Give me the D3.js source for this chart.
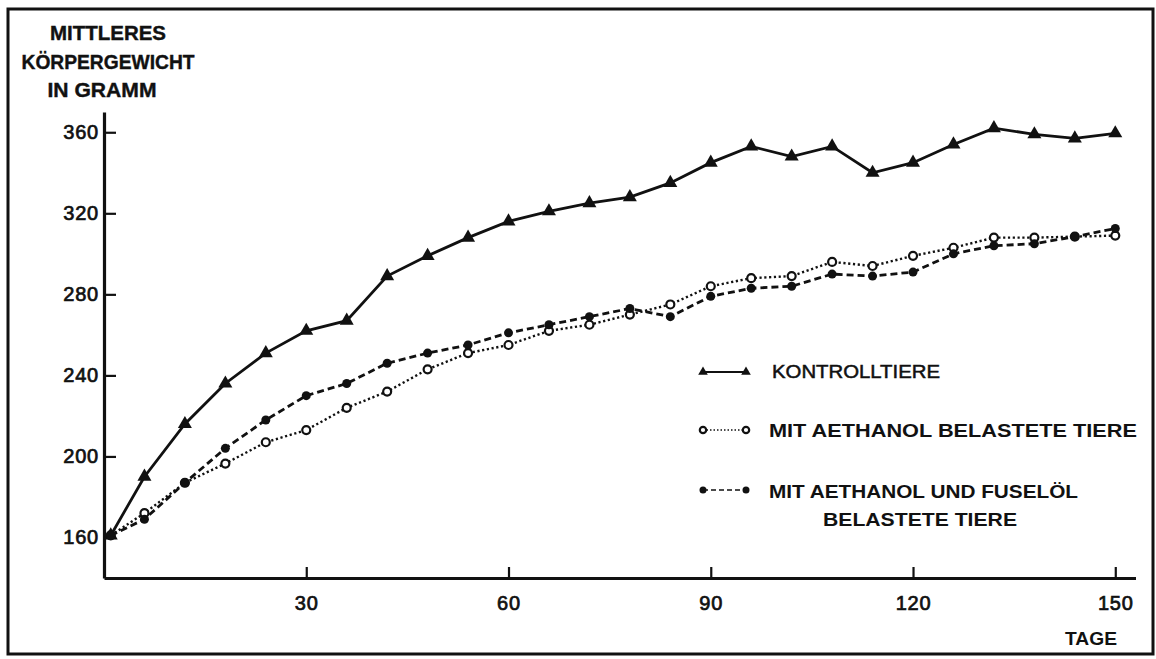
<!DOCTYPE html>
<html>
<head>
<meta charset="utf-8">
<script src="https://cdn.jsdelivr.net/npm/d3@7"></script>
<style>
  html, body { margin: 0; padding: 0; background: #fff; }
  svg { display: block; }
  text { font-family: "Liberation Sans", Arial, sans-serif; fill: #111; }
</style>
</head>
<body>
<svg id="chart" width="1156" height="659"></svg>
<script>
// ---- data ----
const days = [1, 6, 12, 18, 24, 30, 36, 42, 48, 54, 60, 66, 72, 78, 84, 90, 96, 102, 108, 114, 120, 126, 132, 138, 144, 150];
const kontrolltiere = [161, 190, 216, 236, 251, 262, 267, 289, 299, 308, 316, 321, 325, 328, 335, 345, 353, 348, 353, 340, 345, 354, 362, 359, 357, 359.5];
const aethanol = [161, 172, 187, 196.5, 207, 213, 224, 232, 243, 251, 255, 262, 265, 270, 275, 284, 288, 289, 296, 294, 299, 303, 308, 308, 308.5, 309];
const fuselol = [161, 169, 187, 204, 218, 230, 236, 246, 251, 255, 261, 265, 269, 273, 269, 279, 283, 284, 290, 289, 291, 300, 304, 305, 308.5, 312.5];
const yTicks = [160, 200, 240, 280, 320, 360];
const xTicks = [30, 60, 90, 120, 150];
const titleLines = ["MITTLERES", "KÖRPERGEWICHT", "IN GRAMM"];
const xLabel = "TAGE";
const legendLabels = [["KONTROLLTIERE"], ["MIT AETHANOL BELASTETE TIERE"], ["MIT AETHANOL UND FUSELÖL", "BELASTETE TIERE"]];

// ---- layout ----
const svg = d3.select("#chart");
const x = d3.scaleLinear().domain([0, 153]).range([104, 1135.5]);
const y = d3.scaleLinear().domain([140, 370]).range([578, 112]);

// frame
svg.append("rect").attr("x", 8).attr("y", 9).attr("width", 1145).attr("height", 645)
  .attr("fill", "none").attr("stroke", "#111").attr("stroke-width", 3);

// title
const titleY = [40, 69, 97];
const titleX = [108, 108, 102];
const titleW = [116, 173, 109];
titleLines.forEach((t, i) => {
  svg.append("text").attr("x", titleX[i] - titleW[i] / 2).attr("y", titleY[i])
    .attr("font-size", 20).attr("font-weight", "bold")
    .attr("stroke", "#111").attr("stroke-width", 0.4)
    .attr("textLength", titleW[i]).attr("lengthAdjust", "spacingAndGlyphs")
    .text(t);
});

// axes
const yAxis = d3.axisLeft(y).tickValues(yTicks).tickSizeInner(-12).tickSizeOuter(0).tickPadding(5);
const xAxis = d3.axisBottom(x).tickValues(xTicks).tickSizeInner(-11).tickSizeOuter(0).tickPadding(18);

const gy = svg.append("g").attr("transform", `translate(${x(0)},0)`).call(yAxis);
const gx = svg.append("g").attr("transform", `translate(0,${y(140)})`).call(xAxis);

[gy, gx].forEach(g => {
  g.select(".domain").attr("stroke", "#111").attr("stroke-width", 3.2);
  g.selectAll(".tick line").attr("stroke", "#111").attr("stroke-width", 2.2);
  g.selectAll(".tick text").attr("font-size", 20).attr("font-family", "Liberation Sans, Arial, sans-serif")
    .attr("fill", "#111").attr("stroke", "#111").attr("stroke-width", 0.7).attr("letter-spacing", 0.8);
});

// x label
svg.append("text").attr("x", 1065).attr("y", 645).attr("font-size", 19).attr("font-weight", "bold")
  .attr("textLength", 52).attr("lengthAdjust", "spacingAndGlyphs").text(xLabel);

// ---- series ----
const series = [
  { values: kontrolltiere, dash: null, width: 2.8, marker: "triangle" },
  { values: aethanol, dash: "2.2,2.6", width: 2.4, marker: "open" },
  { values: fuselol, dash: "7,4", width: 2.8, marker: "dot" }
];

const line = d3.line().x(d => x(d[0])).y(d => y(d[1]));

series.forEach(s => {
  const pts = days.map((d, i) => [d, s.values[i]]);
  svg.append("path").datum(pts).attr("d", line).attr("fill", "none")
    .attr("stroke", "#111").attr("stroke-width", s.width)
    .attr("stroke-dasharray", s.dash);
});

function drawMarker(sel, type, size) {
  if (type === "triangle") {
    sel.append("path").attr("d", d3.symbol(d3.symbolTriangle, size || 85)()).attr("fill", "#111");
  } else if (type === "open") {
    sel.append("circle").attr("r", size ? 3.2 : 4).attr("fill", "#fff").attr("stroke", "#111").attr("stroke-width", 2.2);
  } else {
    sel.append("circle").attr("r", size ? 3.5 : 4.5).attr("fill", "#111");
  }
}

series.forEach(s => {
  const pts = days.map((d, i) => [d, s.values[i]]);
  const g = svg.append("g").selectAll("g").data(pts).join("g")
    .attr("transform", d => `translate(${x(d[0])},${y(d[1])})`);
  drawMarker(g, s.marker);
});

// ---- legend ----
const legRows = [
  { sym: 372, text: [378], tx: [772], tw: [168], weight: "normal" },
  { sym: 430, text: [437], tx: [769], tw: [368], weight: "bold" },
  { sym: 490, text: [498, 526], tx: [769, 823], tw: [309, 194], weight: "bold" }
];
legRows.forEach((r, i) => {
  const s = series[i];
  svg.append("line").attr("x1", 703).attr("x2", 746).attr("y1", r.sym).attr("y2", r.sym)
    .attr("stroke", "#111").attr("stroke-width", s.marker === "triangle" ? 2 : 1.6)
    .attr("stroke-dasharray", s.marker === "open" ? "1.5,2" : (s.marker === "dot" ? "5,3" : null));
  [703, 746].forEach(px => {
    const g = svg.append("g").attr("transform", `translate(${px},${r.sym})`);
    drawMarker(g, s.marker, 40);
  });
  legendLabels[i].forEach((t, j) => {
    const tx = svg.append("text").attr("x", r.tx[j]).attr("y", r.text[j])
      .attr("font-size", 19).attr("font-weight", r.weight)
      .attr("textLength", r.tw[j]).attr("lengthAdjust", "spacingAndGlyphs").text(t);
    if (r.weight === "normal") tx.attr("stroke", "#111").attr("stroke-width", 0.5);
  });
});
</script>
</body>
</html>
